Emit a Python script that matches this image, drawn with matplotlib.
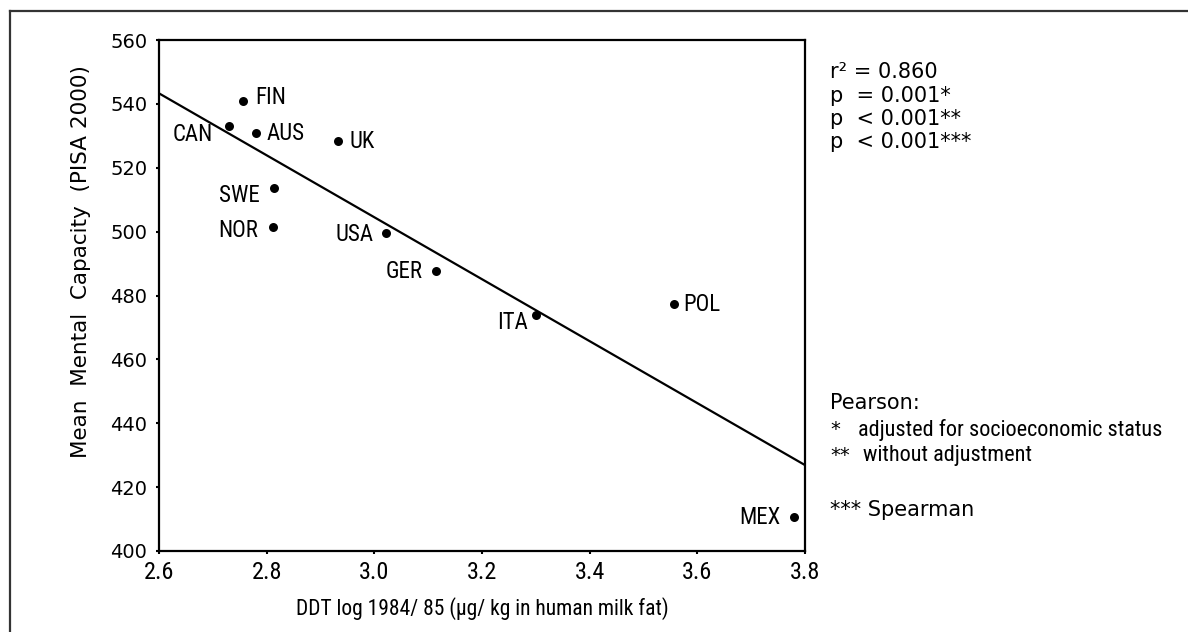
import matplotlib
matplotlib.use('Agg')
import matplotlib.pyplot as plt
from matplotlib import font_manager
from matplotlib.lines import Line2D

# data
countries = ["FIN", "CAN", "AUS", "UK", "SWE", "NOR", "USA", "GER", "ITA", "POL", "MEX"]
ddt_log = [2.756, 2.730, 2.780, 2.932, 2.813, 2.811, 3.022, 3.115, 3.300, 3.557, 3.780]
mental_capacity = [540.9, 533.1, 530.8, 528.4, 513.6, 501.5, 499.7, 487.7, 473.9, 477.2, 410.7]
trend_x = [2.6, 3.8]
trend_y = [543.3, 426.9]
x_ticks = [2.6, 2.8, 3.0, 3.2, 3.4, 3.6, 3.8]
y_ticks = [400, 420, 440, 460, 480, 500, 520, 540, 560]
stats_lines = ["r\u00b2 = 0.860", "p  = 0.001*", "p  < 0.001**", "p  < 0.001***"]

# label placement (pixel offsets from the dot, alignment)
label_pos = {
    "FIN": (12, 4, 'left'), "CAN": (-16, -9, 'right'), "AUS": (11, 0, 'left'),
    "UK": (12, -1, 'left'), "SWE": (-14, -7, 'right'), "NOR": (-14, -4, 'right'),
    "USA": (-13, -2, 'right'), "GER": (-14, -1, 'right'), "ITA": (-8, -8, 'right'),
    "POL": (9, 0, 'left'), "MEX": (-14, -1, 'right'),
}


def pick_narrow_font():
    """Find a condensed sans face if one is installed."""
    entries = font_manager.fontManager.ttflist
    names = {f.name for f in entries}
    for name in ["Liberation Sans Narrow", "Roboto Condensed", "Open Sans Condensed",
                 "Noto Sans Condensed", "DejaVu Sans Condensed", "Arial Narrow"]:
        if name in names:
            return dict(family=[name, 'DejaVu Sans'], fontstretch='normal'), 1.0
    for f in entries:
        if str(f.stretch) in ('condensed', 'semi-condensed', '75', '87.5') and 'Sans' in f.name:
            return dict(family=[f.name, 'DejaVu Sans'], fontstretch=f.stretch), 1.0
    return dict(family=['Roboto', 'DejaVu Sans'], fontstretch='normal'), 0.88


NARROW, nscale = pick_narrow_font()
plt.rcParams['font.family'] = ['DejaVu Sans']

W, H = 1188, 632
fig = plt.figure(figsize=(W / 100, H / 100), dpi=100)
ax = fig.add_axes([159 / W, 1 - 551 / H, (805 - 159) / W, (551 - 40) / H])

ax.plot(trend_x, trend_y, color='black', linewidth=1.6, solid_capstyle='butt')
ax.scatter(ddt_log, mental_capacity, s=42, color='black', zorder=3, linewidths=0)

for name, x, y in zip(countries, ddt_log, mental_capacity):
    dx, dy, ha = label_pos[name]
    ax.annotate(name, (x, y), xytext=(dx, dy), textcoords='offset pixels',
                ha=ha, va='center', fontsize=16.5 * nscale, **NARROW)

ax.set_xlim(2.6, 3.8)
ax.set_ylim(400, 560)
ax.set_xticks(x_ticks)
ax.set_xticklabels([f"{v:.1f}" for v in x_ticks], fontsize=17.5 * nscale, **NARROW)
ax.set_yticks(y_ticks)
ax.set_yticklabels([str(v) for v in y_ticks], fontsize=14)
ax.tick_params(direction='out', length=2.5, width=1.5, pad=6)
ax.tick_params(axis='x', pad=5)
for sp in ax.spines.values():
    sp.set_linewidth(1.6)

ax.set_xlabel("DDT log 1984/ 85 (\u00b5g/ kg in human milk fat)", fontsize=15.5 * nscale,
              labelpad=9, **NARROW)
ax.set_ylabel("Mean  Mental  Capacity  (PISA 2000)", fontsize=15.5)
ax.yaxis.set_label_coords(-0.105, 0.566)

# statistics text on the right
for i, line in enumerate(stats_lines):
    fig.text(830 / W, 1 - (72 + 23.5 * i) / H, line, fontsize=15, va='center', ha='left')

fig.text(830 / W, 1 - 403 / H, "Pearson:", fontsize=15, va='center', ha='left')
fig.text(830 / W, 1 - 430 / H, "*", fontsize=14, va='center', ha='left')
fig.text(858 / W, 1 - 430 / H, "adjusted for socioeconomic status",
         fontsize=16 * nscale, va='center', ha='left', **NARROW)
fig.text(830 / W, 1 - 455 / H, "**", fontsize=14, va='center', ha='left')
fig.text(863 / W, 1 - 455 / H, "without adjustment",
         fontsize=16 * nscale, va='center', ha='left', **NARROW)
fig.text(830 / W, 1 - 510 / H, "*** Spearman", fontsize=15, va='center', ha='left')

# outer frame (top and left edges only)
fig.add_artist(Line2D([10 / W, 1], [1 - 11 / H, 1 - 11 / H], color='#333333', linewidth=1.6))
fig.add_artist(Line2D([10 / W, 10 / W], [0, 1 - 11 / H], color='#333333', linewidth=1.6))

fig.savefig("out.png", dpi=100)
